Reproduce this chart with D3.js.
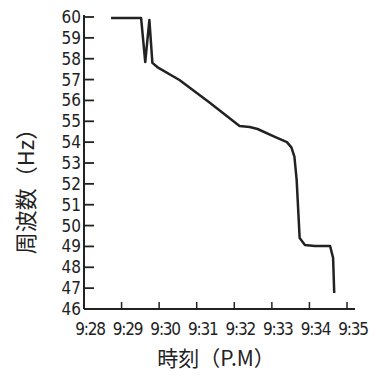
<!DOCTYPE html>
<html><head><meta charset="utf-8">
<script src="https://cdn.jsdelivr.net/npm/d3@7"></script>
<style>
html,body{margin:0;padding:0;background:#fff;}
svg text{fill:#222;}
.tick-label{font-family:'Liberation Sans Narrow','DejaVu Sans Condensed','DejaVu Sans',sans-serif;font-stretch:condensed;}
.title{font-family:'Noto Sans CJK JP','Noto Sans CJK SC',sans-serif;}
</style>
</head><body>
<svg id="chart" width="378" height="376"></svg>
<script>
// Data (time in minutes after 9:00 PM, frequency in Hz)
const timeMin = [28.72, 29.52, 29.63, 29.74, 29.82, 29.95, 30.54, 31.34, 32.14, 32.41, 32.62, 33.08, 33.40, 33.52, 33.60, 33.66, 33.74, 33.88, 34.14, 34.55, 34.63, 34.66];
const freqHz  = [59.95, 59.95, 57.84, 59.86, 57.80, 57.60, 56.98, 55.90, 54.77, 54.73, 54.63, 54.25, 54.00, 53.75, 53.30, 52.19, 49.40, 49.07, 49.02, 49.02, 48.45, 46.77];
const xTicks = [28, 29, 30, 31, 32, 33, 34, 35];
const xTickLabels = ["9:28", "9:29", "9:30", "9:31", "9:32", "9:33", "9:34", "9:35"];
const yTicks = [46, 47, 48, 49, 50, 51, 52, 53, 54, 55, 56, 57, 58, 59, 60];
const yTickLabels = ["46","47","48","49","50","51","52","53","54","55","56","57","58","59","60"];
const xTitle = "時刻（P.M）";
const yTitle = "周波数（Hz）";

const svg = d3.select("#chart");
const x = d3.scaleLinear().domain([28, 35]).range([84, 347]);
const y = d3.scaleLinear().domain([46, 60]).range([309, 17]);
const ink = "#222";

// Axes lines
svg.append("line").attr("x1", x(28)).attr("x2", x(28)).attr("y1", y(60) - 2).attr("y2", y(46))
  .attr("stroke", ink).attr("stroke-width", 2);
svg.append("line").attr("x1", x(28)).attr("x2", x(35) + 8).attr("y1", y(46)).attr("y2", y(46))
  .attr("stroke", ink).attr("stroke-width", 2);

// Y ticks (inward)
svg.append("g").selectAll("line").data(yTicks.slice(1)).join("line")
  .attr("x1", x(28)).attr("x2", x(28) + 10)
  .attr("y1", d => y(d)).attr("y2", d => y(d))
  .attr("stroke", ink).attr("stroke-width", 1.8);
svg.append("g").selectAll("text").data(yTicks).join("text")
  .attr("class", "tick-label")
  .attr("x", x(28) - 3).attr("y", d => y(d) + 6)
  .attr("text-anchor", "end")
  .attr("font-size", 17)
  .text((d, i) => yTickLabels[i]);

// X ticks (inward)
svg.append("g").selectAll("line").data(xTicks.slice(1)).join("line")
  .attr("x1", d => x(d)).attr("x2", d => x(d))
  .attr("y1", y(46)).attr("y2", y(46) - 7)
  .attr("stroke", ink).attr("stroke-width", 1.5);
svg.append("g").selectAll("text").data(xTicks).join("text")
  .attr("class", "tick-label")
  .attr("x", d => x(d) + 6).attr("y", y(46) + 26)
  .attr("text-anchor", "middle")
  .attr("font-size", 17)
  .attr("letter-spacing", -1.2)
  .text((d, i) => xTickLabels[i]);

// Titles
svg.append("text").attr("class", "title")
  .attr("x", 216).attr("y", 366)
  .attr("text-anchor", "middle").attr("font-size", 21)
  .text(xTitle);
svg.append("text").attr("class", "title")
  .attr("transform", "translate(34,186) rotate(-90)")
  .attr("text-anchor", "middle").attr("font-size", 22)
  .text(yTitle);

// Line
const pts = timeMin.map((t, i) => [t, freqHz[i]]);
svg.append("path").datum(pts)
  .attr("d", d3.line().x(d => x(d[0])).y(d => y(d[1])).curve(d3.curveLinear))
  .attr("fill", "none").attr("stroke", ink).attr("stroke-width", 2.5)
  .attr("stroke-linejoin", "round");
</script>
</body></html>
